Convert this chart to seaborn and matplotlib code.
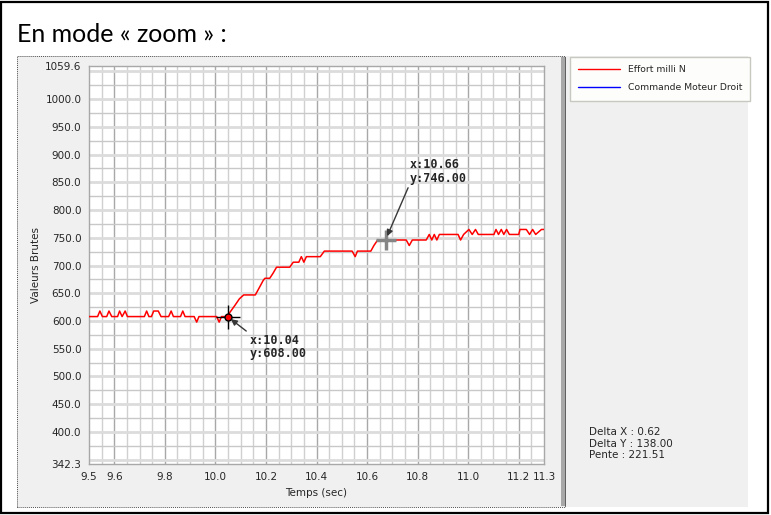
import numpy as np
import pandas as pd
import matplotlib
matplotlib.use("Agg")
import matplotlib.pyplot as plt
import seaborn as sns
from matplotlib.patches import Rectangle
from matplotlib.lines import Line2D
from matplotlib.ticker import FixedLocator

# ---------------- data ----------------
time_s = [9.500, 9.534, 9.543, 9.553, 9.570, 9.579, 9.590, 9.613, 9.621, 9.631, 9.643, 9.652,
          9.719, 9.728, 9.737, 9.747, 9.756, 9.774, 9.785, 9.815, 9.825, 9.834, 9.862, 9.871,
          9.880, 9.916, 9.926, 9.935, 10.005, 10.015, 10.024, 10.048, 10.058, 10.077, 10.095,
          10.112, 10.158, 10.176, 10.189, 10.196, 10.215, 10.228, 10.242, 10.294, 10.308,
          10.330, 10.340, 10.350, 10.360, 10.415, 10.431, 10.541, 10.553, 10.562, 10.615,
          10.627, 10.642, 10.755, 10.767, 10.779, 10.834, 10.846, 10.856, 10.866, 10.876,
          10.886, 10.960, 10.970, 10.982, 11.003, 11.016, 11.029, 11.040, 11.102, 11.110,
          11.120, 11.131, 11.141, 11.152, 11.163, 11.200, 11.205, 11.230, 11.243, 11.255,
          11.267, 11.290, 11.300]
effort = [608, 608, 618, 608, 608, 618, 608, 608, 618, 608, 618, 608,
          608, 618, 608, 608, 618, 618, 608, 608, 618, 608, 608, 618,
          608, 608, 598, 608, 608, 598, 608, 608, 616, 628, 640,
          647, 647, 662, 673, 677, 677, 686, 697, 697, 706,
          706, 716, 706, 716, 716, 726, 726, 716, 726, 726,
          736, 746, 746, 736, 746, 746, 756, 746, 756, 746,
          756, 756, 746, 756, 765, 756, 765, 756, 756, 765,
          756, 765, 756, 765, 756, 756, 765, 765, 756, 765,
          756, 765, 765]

series_names = ["Effort milli N", "Commande Moteur Droit"]
series_colors = ["#ff0000", "#0000ff"]

x_ticks = [9.5, 9.6, 9.8, 10.0, 10.2, 10.4, 10.6, 10.8, 11.0, 11.2, 11.3]
y_ticks = [342.3, 400.0, 450.0, 500.0, 550.0, 600.0, 650.0, 700.0, 750.0,
           800.0, 850.0, 900.0, 950.0, 1000.0, 1059.6]
x_min, x_max = 9.5, 11.3
y_min, y_max = 342.3, 1059.6

cursor_x = [10.048, 10.673]
cursor_y = [608.0, 746.0]
cursor_labels = ["x:10.04\ny:608.00", "x:10.66\ny:746.00"]
delta_text = "Delta X : 0.62\nDelta Y : 138.00\nPente : 221.51"
title_text = "En mode \u00ab zoom \u00bb :"

df = pd.DataFrame({"t": time_s, "v": effort})

# ---------------- figure ----------------
W, H = 771, 515
fig = plt.figure(figsize=(W / 100, H / 100), dpi=100, facecolor="white")
sns.set_style("white")
plt.rcParams["font.family"] = ["DejaVu Sans"]


def fx(px):
    return px / W


def fy(py):
    return 1 - py / H


def frect(x0, y0, x1, y1, **kw):
    r = Rectangle((fx(x0), fy(y1)), fx(x1) - fx(x0), fy(y0) - fy(y1),
                  transform=fig.transFigure, **kw)
    fig.add_artist(r)
    return r


# outer frame
frect(1, 2, 768, 513, fill=False, edgecolor="black", linewidth=1.6, zorder=0)
# gray panel
frect(17, 56, 748, 507, facecolor="#f0f0f0", edgecolor="none", zorder=0)
# dotted border of graph region
frect(17, 56, 565, 507, fill=False, edgecolor="#505050", linewidth=0.7,
      linestyle=(0, (1, 1)), zorder=1)
# separator bar
frect(561, 57, 566, 506, facecolor="#a8a8a8", edgecolor="none", zorder=1)
frect(564.5, 57, 566, 506, facecolor="#606060", edgecolor="none", zorder=1)

fig.text(fx(17), fy(42), title_text, fontsize=18, family=["Lato", "DejaVu Sans"],
         color="black", va="baseline", ha="left")

ax = fig.add_axes([fx(89), fy(464), fx(544) - fx(89), fy(66) - fy(464)])
ax.set_facecolor("white")

sns.lineplot(data=df, x="t", y="v", ax=ax, color=series_colors[0], linewidth=1.1,
             estimator=None, sort=False, legend=False, zorder=3)

ax.set_xlim(x_min, x_max)
ax.set_ylim(y_min, y_max)

# grid
for xv in np.arange(9.55, 11.3, 0.05):
    major = abs(round(xv / 0.2) * 0.2 - xv) < 1e-6
    ax.axvline(xv, color="#a8a8a8" if major else "#d0d0d0", linewidth=1.0, zorder=1)
for yv in np.arange(350, 1059, 25):
    major = yv % 50 == 0
    ax.axhline(yv, color="#dcdcdc" if major else "#c8c8c8",
               linewidth=2.0 if major else 1.0, zorder=1)

ax.xaxis.set_major_locator(FixedLocator(x_ticks))
ax.yaxis.set_major_locator(FixedLocator(y_ticks))
ax.set_xticklabels([f"{v:.1f}" for v in x_ticks])
ax.set_yticklabels([f"{v:.1f}" for v in y_ticks])
ax.tick_params(axis="both", which="major", labelsize=7.5, length=4, width=0.8,
               color="black", direction="out", pad=1.5)
ax.tick_params(axis="both", which="minor", length=0)
ax.tick_params(axis="x", pad=2)

for s in ax.spines.values():
    s.set_color("#a8a8a8")
    s.set_linewidth(1.0)

ax.set_xlabel("Temps (sec)", fontsize=7.5)
ax.set_ylabel("Valeurs Brutes", fontsize=7.5)
ax.xaxis.set_label_coords(0.5, -0.06)
ax.yaxis.set_label_coords(-0.105, 0.5)

# cursors
ax.plot([cursor_x[0]], [cursor_y[0]], marker="+", markersize=17, mew=1.0,
        color="black", zorder=5, linestyle="none")
ax.plot([cursor_x[0]], [cursor_y[0]], marker="o", markersize=5, mfc="#ff0000",
        mec="black", mew=1.0, zorder=6, linestyle="none")
ax.plot([cursor_x[1]], [cursor_y[1]], marker="+", markersize=15, mew=2.5,
        color="#858585", zorder=5, linestyle="none")

arrow_kw = dict(arrowstyle="-|>", color="#383838", lw=1.0, mutation_scale=9,
                shrinkA=0, shrinkB=3)
ax.annotate(cursor_labels[0], xy=(cursor_x[0], cursor_y[0]), xytext=(22, -17),
            textcoords="offset pixels", ha="left", va="top", fontsize=8.5,
            family="DejaVu Sans Mono", fontweight="bold", linespacing=1.05,
            arrowprops=dict(relpos=(0, 1), **arrow_kw), zorder=7)
ax.annotate(cursor_labels[1], xy=(cursor_x[1], cursor_y[1]), xytext=(24, 82),
            textcoords="offset pixels", ha="left", va="top", fontsize=8.5,
            family="DejaVu Sans Mono", fontweight="bold", linespacing=1.05,
            arrowprops=dict(relpos=(0, 0), **arrow_kw), zorder=7)

# legend
handles = [Line2D([], [], color=c, linewidth=1.0) for c in series_colors]
leg = fig.legend(handles, series_names, loc="upper left",
                 bbox_to_anchor=(fx(570), fy(57)), bbox_transform=fig.transFigure,
                 fontsize=6.7, frameon=True, fancybox=False, framealpha=1,
                 facecolor="#fdfdfb", edgecolor="#c8c8c0", handlelength=4.5,
                 handletextpad=0.8, labelspacing=0.95, borderpad=0.9,
                 borderaxespad=0)
leg.get_frame().set_linewidth(1.0)

fig.text(fx(589), fy(427), delta_text, fontsize=7.5, va="top", ha="left",
         linespacing=1.2)

fig.savefig("out.png", dpi=100, facecolor="white")
